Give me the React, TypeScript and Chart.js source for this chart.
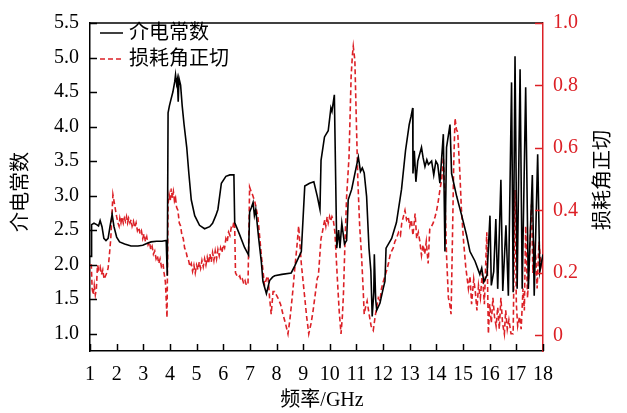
import React, { useEffect, useRef } from "react";
import { Chart, registerables } from "chart.js";

Chart.register(...registerables);

// ---------- data ----------
const epsFreq = [
  1.0, 1.04, 1.06, 1.15, 1.25, 1.32, 1.38, 1.45, 1.52, 1.6, 1.68, 1.75, 1.83, 1.9, 2.0, 2.11, 2.3, 2.54, 2.8, 2.98,
  3.15, 3.29, 3.5, 3.7, 3.86, 3.9, 3.93, 3.98, 4.03, 4.11, 4.18, 4.21, 4.25, 4.28, 4.31, 4.34, 4.4, 4.46, 4.53, 4.63,
  4.71, 4.8, 4.93, 5.11, 5.3, 5.49, 5.6, 5.72, 5.8, 5.93, 6.1, 6.25, 6.4, 6.43, 6.6, 6.8, 6.95, 6.99, 7.05, 7.12,
  7.17, 7.22, 7.33, 7.43, 7.49, 7.62, 7.74, 7.85, 7.93, 8.2, 8.55, 8.68, 8.8, 8.93, 9.06, 9.24, 9.4, 9.53, 9.63, 9.67,
  9.8, 9.94, 10.04, 10.08, 10.17, 10.26, 10.33, 10.38, 10.45, 10.55, 10.63, 10.69, 10.82, 10.94, 11.07, 11.15, 11.22, 11.29, 11.38, 11.47,
  11.54, 11.59, 11.65, 11.67, 11.72, 11.76, 11.88, 12.0, 12.07, 12.11, 12.32, 12.5, 12.69, 12.84, 12.98, 13.05, 13.11, 13.12, 13.17, 13.23,
  13.3, 13.44, 13.5, 13.57, 13.64, 13.7, 13.82, 13.9, 13.98, 14.05, 14.13, 14.26, 14.32, 14.38, 14.51, 14.57, 14.76, 14.95, 15.13, 15.26,
  15.45, 15.63, 15.7, 15.78, 15.9, 16.01, 16.06, 16.15, 16.23, 16.3, 16.42, 16.49, 16.61, 16.7, 16.82, 16.88, 16.95, 17.03, 17.14, 17.22,
  17.35, 17.45, 17.6, 17.67, 17.8, 17.88, 18.0,
];
const epsValues = [
  2.12, 2.12, 2.58, 2.6, 2.58, 2.56, 2.64, 2.55, 2.38, 2.35, 2.38, 2.55, 2.73, 2.55, 2.4, 2.33, 2.3, 2.27, 2.27, 2.28,
  2.31, 2.33, 2.34, 2.34, 2.35, 1.84, 4.2, 4.3, 4.38, 4.5, 4.65, 4.75, 4.62, 4.68, 4.36, 4.7, 4.6, 4.3, 4.03, 3.7,
  3.32, 2.94, 2.71, 2.57, 2.52, 2.55, 2.6, 2.71, 2.8, 3.18, 3.28, 3.3, 3.3, 2.61, 2.45, 2.25, 2.14, 2.76, 2.82, 2.9,
  2.71, 2.8, 2.38, 2.04, 1.76, 1.58, 1.77, 1.82, 1.84, 1.86, 1.88, 1.98, 2.08, 2.19, 3.14, 3.18, 3.2, 2.99, 2.8, 3.51,
  3.85, 3.94, 4.27, 4.22, 4.46, 2.24, 2.5, 2.24, 2.6, 2.3, 2.35, 2.94, 3.09, 3.32, 3.56, 3.35, 3.4, 3.33, 2.99, 2.24,
  1.91, 1.25, 1.6, 2.15, 1.5, 1.34, 1.44, 1.65, 1.76, 2.24, 2.38, 2.61, 3.09, 3.65, 4.03, 4.15, 4.27, 3.32, 3.65, 3.2,
  3.5, 3.7, 3.55, 3.42, 3.52, 3.45, 3.5, 3.3, 3.5, 3.45, 3.18, 3.89, 2.19, 3.7, 4.03, 3.32, 2.99, 2.71, 2.43, 2.19,
  2.05, 1.86, 1.95, 1.75, 1.85, 2.71, 1.7, 1.9, 2.66, 1.65, 3.23, 1.62, 2.57, 1.55, 4.64, 1.6, 5.02, 1.65, 4.83, 1.65,
  4.57, 1.65, 3.3, 1.55, 3.6, 1.9, 2.15,
];

const tanFreq = [
  1.0, 1.05, 1.08, 1.12, 1.16, 1.2, 1.24, 1.28, 1.33, 1.38,
  1.43, 1.48, 1.53, 1.58, 1.63, 1.68, 1.72, 1.78, 1.86, 1.92,
  2.0, 2.05, 2.09, 2.12, 2.16, 2.2, 2.25, 2.29, 2.33, 2.37,
  2.41, 2.45, 2.5, 2.54, 2.58, 2.63, 2.68, 2.73, 2.78, 2.83,
  2.88, 2.93, 2.98, 3.03, 3.08, 3.13, 3.18, 3.23, 3.28, 3.33,
  3.38, 3.43, 3.48, 3.53, 3.58, 3.63, 3.68, 3.74, 3.78, 3.83,
  3.89, 3.93, 3.97, 4.01, 4.05, 4.09, 4.13, 4.17, 4.21, 4.25,
  4.3, 4.35, 4.4, 4.45, 4.5, 4.55, 4.6, 4.65, 4.7, 4.75,
  4.8, 4.85, 4.9, 4.95, 5.0, 5.05, 5.1, 5.15, 5.2, 5.25,
  5.3, 5.35, 5.4, 5.45, 5.5, 5.55, 5.6, 5.65, 5.7, 5.75,
  5.8, 5.85, 5.9, 5.95, 6.0, 6.05, 6.1, 6.15, 6.2, 6.25,
  6.3, 6.35, 6.4, 6.43, 6.46, 6.52, 6.57, 6.62, 6.67, 6.72,
  6.77, 6.82, 6.87, 6.93, 6.99, 7.05, 7.1, 7.18, 7.3, 7.43,
  7.5, 7.55, 7.62, 7.68, 7.74, 7.8, 7.87, 7.93, 8.05, 8.15,
  8.24, 8.33, 8.43, 8.5, 8.55, 8.62, 8.68, 8.76, 8.83, 8.93,
  9.0, 9.06, 9.13, 9.21, 9.3, 9.37, 9.45, 9.53, 9.57, 9.62,
  9.67, 9.72, 9.76, 9.81, 9.85, 9.9, 9.94, 9.99, 10.03, 10.08,
  10.13, 10.19, 10.24, 10.29, 10.35, 10.42, 10.47, 10.51, 10.57, 10.63,
  10.72, 10.8, 10.85, 10.88, 10.94, 11.0, 11.05, 11.12, 11.19, 11.25,
  11.29, 11.34, 11.4, 11.47, 11.55, 11.63, 11.7, 11.76, 11.82, 11.88,
  11.94, 12.0, 12.07, 12.14, 12.2, 12.26, 12.32, 12.38, 12.44, 12.5,
  12.58, 12.65, 12.7, 12.76, 12.82, 12.88, 12.94, 13.0, 13.06, 13.12,
  13.2, 13.26, 13.32, 13.38, 13.44, 13.5, 13.56, 13.62, 13.69, 13.75,
  13.82, 13.88, 13.95, 14.01, 14.07, 14.13, 14.2, 14.26, 14.32, 14.38,
  14.45, 14.5, 14.55, 14.6, 14.65, 14.7, 14.75, 14.8, 14.88, 14.94,
  15.02, 15.1, 15.2, 15.26, 15.32, 15.4, 15.46, 15.52, 15.58, 15.65,
  15.72, 15.8, 15.89, 15.95, 16.0, 16.06, 16.12, 16.18, 16.24, 16.3,
  16.36, 16.42, 16.48, 16.55, 16.6, 16.66, 16.72, 16.8, 16.88, 16.95,
  17.0, 17.05, 17.12, 17.18, 17.25, 17.3, 17.35, 17.42, 17.48, 17.57,
  17.62, 17.68, 17.73, 17.78, 17.85, 17.92, 18.0,
];
const tanValues = [
  0.225, 0.225, 0.15, 0.13, 0.16, 0.13, 0.15, 0.225, 0.21, 0.22,
  0.195, 0.21, 0.18, 0.19, 0.2, 0.215, 0.25, 0.31, 0.45, 0.42,
  0.38, 0.36, 0.35, 0.375, 0.36, 0.38, 0.36, 0.375, 0.365, 0.38,
  0.36, 0.375, 0.36, 0.37, 0.35, 0.365, 0.345, 0.36, 0.335, 0.345,
  0.325, 0.335, 0.31, 0.325, 0.3, 0.315, 0.29, 0.3, 0.275, 0.285,
  0.26, 0.27, 0.245, 0.255, 0.23, 0.245, 0.22, 0.23, 0.2, 0.17,
  0.057, 0.42, 0.45, 0.43, 0.47, 0.44, 0.46, 0.43, 0.44, 0.41,
  0.4, 0.36, 0.35, 0.32, 0.31, 0.28, 0.27, 0.25, 0.24, 0.22,
  0.23, 0.205, 0.225, 0.2, 0.225, 0.21, 0.235, 0.215, 0.24, 0.22,
  0.245, 0.225, 0.25, 0.23, 0.26, 0.235, 0.265, 0.24, 0.27, 0.245,
  0.275, 0.255, 0.28, 0.265, 0.29, 0.28, 0.31, 0.3, 0.33, 0.32,
  0.345, 0.34, 0.365, 0.35, 0.2, 0.19, 0.185, 0.19, 0.175, 0.18,
  0.165, 0.175, 0.16, 0.165, 0.475, 0.46, 0.45, 0.43, 0.38, 0.256,
  0.2, 0.16, 0.18, 0.19, 0.12, 0.068, 0.14, 0.14, 0.12, 0.1,
  0.068, 0.04, 0.005, 0.05, 0.09, 0.15, 0.21, 0.28, 0.35, 0.23,
  0.17, 0.12, 0.06, 0.005, 0.04, 0.078, 0.13, 0.183, 0.19, 0.25,
  0.31, 0.33, 0.35, 0.37, 0.35, 0.38, 0.36, 0.38, 0.365, 0.38,
  0.37, 0.33, 0.25, 0.17, 0.08, 0.005, 0.06, 0.13, 0.3, 0.444,
  0.57, 0.83, 0.9, 0.925, 0.88, 0.67, 0.5, 0.35, 0.256, 0.15,
  0.068, 0.09, 0.11, 0.07, 0.03, 0.016, 0.06, 0.09, 0.12, 0.11,
  0.15, 0.17, 0.19, 0.21, 0.23, 0.256, 0.27, 0.28, 0.3, 0.31,
  0.33, 0.32, 0.36, 0.38, 0.4, 0.37, 0.38, 0.35, 0.37, 0.32,
  0.39, 0.31, 0.33, 0.3, 0.256, 0.29, 0.26, 0.3, 0.23, 0.34,
  0.35, 0.36, 0.38, 0.4, 0.43, 0.465, 0.5, 0.57, 0.45, 0.256,
  0.12, 0.1, 0.068, 0.3, 0.55, 0.695, 0.66, 0.65, 0.52, 0.4,
  0.3, 0.22, 0.15, 0.19, 0.1, 0.18, 0.14, 0.08, 0.16, 0.12,
  0.2, 0.1, 0.33, 0.005, 0.1, 0.04, 0.12, 0.06, 0.03, 0.09,
  0.02, 0.12, 0.04, 0.005, 0.08, 0.02, 0.05, 0.005, 0.005, 0.465,
  0.1, 0.03, 0.06, 0.02, 0.15, 0.08, 0.35, 0.12, 0.22, 0.42,
  0.2, 0.28, 0.25, 0.15, 0.3, 0.22, 0.256,
];

const xTicks = [1, 2, 3, 4, 5, 6, 7, 8, 9, 10, 11, 12, 13, 14, 15, 16, 17, 18];
const leftTicks = [1.0, 1.5, 2.0, 2.5, 3.0, 3.5, 4.0, 4.5, 5.0, 5.5];
const rightTicks = [0, 0.2, 0.4, 0.6, 0.8, 1.0];
const seriesNames = ["介电常数", "损耗角正切"];
const xTitle = "频率/GHz";
const leftTitle = "介电常数";
const rightTitle = "损耗角正切";

const RED = "#dc2026";
const FONT = '"Liberation Serif", "Noto Sans CJK SC", serif';

const decorPlugin = {
  id: "decor",
  afterDraw(chart: any) {
    const { ctx, chartArea: a, scales } = chart;
    const line = (x1: number, y1: number, x2: number, y2: number) => {
      ctx.beginPath();
      ctx.moveTo(x1, y1);
      ctx.lineTo(x2, y2);
      ctx.stroke();
    };
    ctx.save();
    ctx.lineWidth = 1.5;
    ctx.strokeStyle = "#000";
    line(a.left, a.top, a.right, a.top);
    for (const t of xTicks) {
      const px = Math.round(scales.x.getPixelForValue(t)) + 0.5;
      line(px, a.bottom, px, a.bottom - 7);
    }
    for (const t of leftTicks) {
      const py = Math.round(scales.y.getPixelForValue(t)) + 0.5;
      line(a.left, py, a.left + 7, py);
    }
    ctx.strokeStyle = RED;
    for (const t of rightTicks) {
      const py = Math.round(scales.y1.getPixelForValue(t)) + 0.5;
      line(a.right, py, a.right - 8, py);
    }
    // legend
    ctx.font = "20px " + FONT;
    ctx.textBaseline = "middle";
    ctx.textAlign = "left";
    ctx.strokeStyle = "#000";
    ctx.lineWidth = 1.5;
    line(100, 33, 123, 33);
    ctx.fillStyle = "#000";
    ctx.fillText(seriesNames[0], 129, 34);
    ctx.strokeStyle = RED;
    ctx.setLineDash([5, 3]);
    line(100, 59, 123, 59);
    ctx.setLineDash([]);
    ctx.fillStyle = "#000";
    ctx.fillText(seriesNames[1], 129, 60);
    // axis titles
    ctx.textAlign = "center";
    ctx.fillText(xTitle, 322, 401);
    ctx.save();
    ctx.translate(22, 192);
    ctx.rotate(-Math.PI / 2);
    ctx.fillText(leftTitle, 0, 0);
    ctx.restore();
    ctx.save();
    ctx.translate(604, 180);
    ctx.rotate(-Math.PI / 2);
    ctx.fillText(rightTitle, 0, 0);
    ctx.restore();
    ctx.restore();
  },
};

export default function App() {
  const ref = useRef<HTMLCanvasElement>(null);
  useEffect(() => {
    if (!ref.current) return;
    const chart = new Chart(ref.current, {
      type: "line",
      data: {
        datasets: [
          {
            label: seriesNames[0],
            data: epsFreq.map((x, i) => ({ x, y: epsValues[i] })),
            borderColor: "#000",
            borderWidth: 1.6,
            pointRadius: 0,
            tension: 0,
            yAxisID: "y",
          },
          {
            label: seriesNames[1],
            data: tanFreq.map((x, i) => ({ x, y: tanValues[i] })),
            borderColor: RED,
            borderWidth: 1.6,
            borderDash: [5, 3],
            pointRadius: 0,
            tension: 0,
            yAxisID: "y1",
          },
        ],
      },
      options: {
        animation: false,
        responsive: false,
        devicePixelRatio: 1,
        layout: { padding: { top: 16, left: 0, right: 0, bottom: 0 } },
        plugins: { legend: { display: false }, tooltip: { enabled: false } },
        scales: {
          x: {
            type: "linear",
            min: 1,
            max: 18,
            afterBuildTicks: (s: any) => {
              s.ticks = xTicks.map((v) => ({ value: v }));
            },
            afterFit: (s: any) => {
              s.height = 62;
            },
            grid: { display: false, drawTicks: false },
            border: { display: true, color: "#000", width: 1.5 },
            ticks: {
              autoSkip: false,
              maxRotation: 0,
              padding: 12,
              color: "#000",
              font: { family: FONT, size: 20 },
              callback: (v: any) => String(v),
            },
          },
          y: {
            type: "linear",
            position: "left",
            min: 0.75,
            max: 5.5,
            afterBuildTicks: (s: any) => {
              s.ticks = leftTicks.map((v) => ({ value: v }));
            },
            afterFit: (s: any) => {
              s.width = 90;
            },
            grid: { display: false, drawTicks: false },
            border: { display: true, color: "#000", width: 1.5 },
            ticks: {
              padding: 11,
              color: "#000",
              font: { family: FONT, size: 20 },
              callback: (v: any) => Number(v).toFixed(1),
            },
          },
          y1: {
            type: "linear",
            position: "right",
            min: -0.05,
            max: 1.0,
            afterBuildTicks: (s: any) => {
              s.ticks = rightTicks.map((v) => ({ value: v }));
            },
            afterFit: (s: any) => {
              s.width = 84;
            },
            grid: { display: false, drawTicks: false },
            border: { display: true, color: RED, width: 1.5 },
            ticks: {
              padding: 10,
              color: RED,
              font: { family: FONT, size: 20 },
              callback: (v: any) => (Number(v) === 0 ? "0" : Number(v).toFixed(1)),
            },
          },
        },
      },
      plugins: [decorPlugin],
    } as any);
    return () => chart.destroy();
  }, []);
  return (
    <div style={{ position: "absolute", left: 0, top: 0, width: 627, height: 413, background: "#fff" }}>
      <canvas ref={ref} width={627} height={413} />
    </div>
  );
}
